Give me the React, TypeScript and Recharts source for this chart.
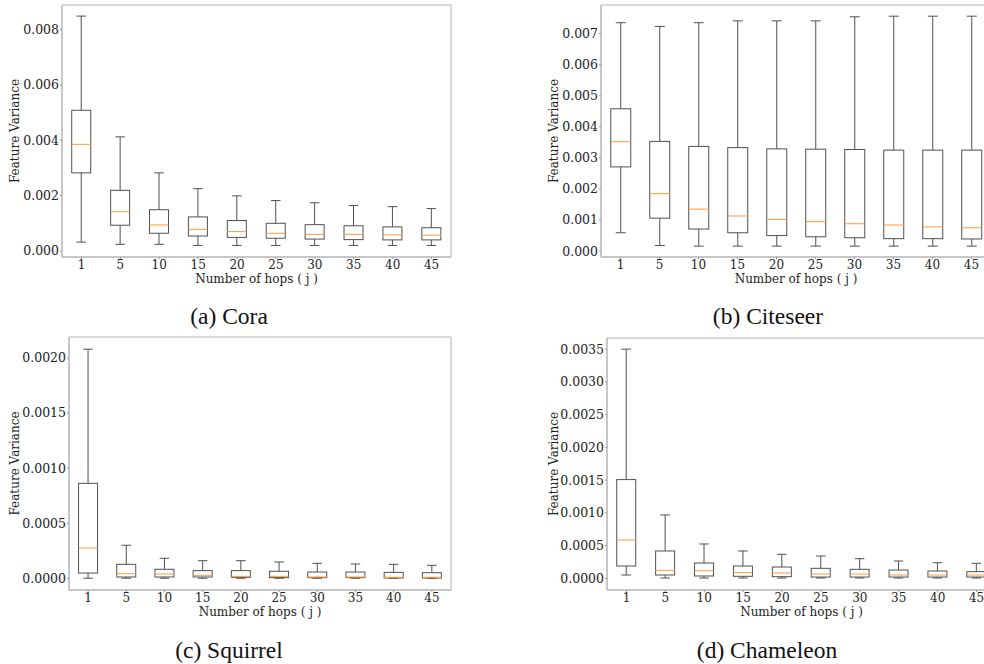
import React from "react"
import { Bar, ComposedChart, ReferenceArea, XAxis, YAxis } from "recharts"

// hop counts on the x axis
const hops = ["1", "5", "10", "15", "20", "25", "30", "35", "40", "45"]

// (a) Cora
const coraLow = [0.00032, 0.00024, 0.00024, 0.0002, 0.0002, 0.0002, 0.0002, 0.0002, 0.0002, 0.0002]
const coraQ1 = [0.00282, 0.00093, 0.00064, 0.00054, 0.00049, 0.00046, 0.00043, 0.00041, 0.0004, 0.0004]
const coraMed = [0.00385, 0.00142, 0.00094, 0.00078, 0.0007, 0.00064, 0.0006, 0.0006, 0.00058, 0.00057]
const coraQ3 = [0.00508, 0.00219, 0.00149, 0.00123, 0.0011, 0.001, 0.00095, 0.00091, 0.00087, 0.00084]
const coraHigh = [0.00848, 0.00412, 0.00282, 0.00225, 0.00199, 0.00182, 0.00174, 0.00164, 0.0016, 0.00153]

// (b) Citeseer
const citeLow = [0.00059, 0.00018, 0.00016, 0.00016, 0.00016, 0.00016, 0.00016, 0.00016, 0.00016, 0.00016]
const citeQ1 = [0.00271, 0.00106, 0.00071, 0.00059, 0.0005, 0.00046, 0.00043, 0.0004, 0.0004, 0.00039]
const citeMed = [0.00352, 0.00185, 0.00135, 0.00113, 0.00102, 0.00095, 0.00088, 0.00084, 0.00078, 0.00075]
const citeQ3 = [0.00458, 0.00353, 0.00337, 0.00333, 0.00329, 0.00328, 0.00327, 0.00325, 0.00325, 0.00325]
const citeHigh = [0.00735, 0.00723, 0.00735, 0.00741, 0.00741, 0.00741, 0.00754, 0.00756, 0.00756, 0.00756]

// (c) Squirrel
const squLow = [0.000001, 0.000001, 0.000001, 0.000001, 0.000001, 0.000001, 0.000001, 0.000001, 0.000001, 0.000001]
const squQ1 = [0.000048, 0.000012, 0.000012, 0.000012, 0.000009, 0.000006, 0.000006, 0.000006, 0.000003, 0.000003]
const squMed = [0.000275, 0.000042, 0.000039, 0.000027, 0.000018, 0.000018, 0.000012, 0.000012, 0.000009, 0.000009]
const squQ3 = [0.000862, 0.000127, 0.000082, 0.00007, 0.00007, 0.000064, 0.000057, 0.000057, 0.000054, 0.000051]
const squHigh = [0.002079, 0.0003, 0.000182, 0.00016, 0.00016, 0.000148, 0.000136, 0.00013, 0.000127, 0.000118]

// (d) Chameleon
const chamLow = [0.000051, 0.000005, 0.000005, 0.000005, 0.000005, 0.000005, 0.000005, 0.000005, 0.000005, 0.000005]
const chamQ1 = [0.000188, 0.000051, 0.000036, 0.000031, 0.000025, 0.00002, 0.00002, 0.00002, 0.00002, 0.00002]
const chamMed = [0.000586, 0.000122, 0.000117, 0.000087, 0.000082, 0.000066, 0.000066, 0.000051, 0.000051, 0.000051]
const chamQ3 = [0.001508, 0.000418, 0.000234, 0.000188, 0.000173, 0.000153, 0.000138, 0.000127, 0.000112, 0.000102]
const chamHigh = [0.0035, 0.000968, 0.000525, 0.000418, 0.000367, 0.000341, 0.0003, 0.000265, 0.000239, 0.000229]

const coraTicks = [0, 0.002, 0.004, 0.006, 0.008]
const citeTicks = [0, 0.001, 0.002, 0.003, 0.004, 0.005, 0.006, 0.007]
const squTicks = [0, 0.0005, 0.001, 0.0015, 0.002]
const chamTicks = [0, 0.0005, 0.001, 0.0015, 0.002, 0.0025, 0.003, 0.0035]

const FRAME = "#b4b4b4"
const BOX = "#505050"
const MEDIAN = "#ff9a3c"
const SERIF = "'DejaVu Serif', serif"
const TIMES = "'Liberation Serif', 'Times New Roman', serif"

function makeRows(low: number[], q1: number[], med: number[], q3: number[], high: number[]) {
  return hops.map((hop, i) => ({
    hop,
    low: low[i],
    q1: q1[i],
    med: med[i],
    q3: q3[i],
    high: high[i],
    range: [low[i], high[i]],
  }))
}

// draws one box plot inside the bar rect that spans [low, high]
function BoxShape(props: any) {
  const { x, y, width, height, payload } = props
  const { low, q1, med, q3, high } = payload
  const pos = (v: number) => y + (height * (high - v)) / (high - low)
  const cx = x + width / 2
  const cap = width / 4
  return (
    <g>
      <line x1={cx} x2={cx} y1={pos(high)} y2={pos(q3)} stroke={BOX} />
      <line x1={cx} x2={cx} y1={pos(q1)} y2={pos(low)} stroke={BOX} />
      <line x1={cx - cap} x2={cx + cap} y1={pos(high)} y2={pos(high)} stroke={BOX} />
      <line x1={cx - cap} x2={cx + cap} y1={pos(low)} y2={pos(low)} stroke={BOX} />
      <rect x={x} y={pos(q3)} width={width} height={pos(q1) - pos(q3)} fill="none" stroke={BOX} />
      <line x1={x} x2={x + width} y1={pos(med)} y2={pos(med)} stroke={MEDIAN} />
    </g>
  )
}

function YTitle({ viewBox, dx }: any) {
  const cx = viewBox.x + viewBox.width + dx
  const cy = viewBox.y + viewBox.height / 2
  return (
    <text x={cx} y={cy} transform={`rotate(-90, ${cx}, ${cy})`} textAnchor="middle"
      dominantBaseline="central" fontFamily={SERIF} fontSize={12} fill="#222">
      Feature Variance
    </text>
  )
}

function XTitle({ viewBox }: any) {
  return (
    <text x={viewBox.x + viewBox.width / 2} y={viewBox.y + 22} textAnchor="middle"
      dominantBaseline="central" fontFamily={SERIF} fontSize={12} fill="#222">
      Number of hops ( j )
    </text>
  )
}

interface PanelProps {
  rows: any[]
  domain: [number, number]
  ticks: number[]
  digits: number
  left: number
  top: number
  plotW: number
  plotH: number
  titleDx: number
}

const AXIS_W = 70
const AXIS_H = 32

function Panel({ rows, domain, ticks, digits, left, top, plotW, plotH, titleDx }: PanelProps) {
  return (
    <div style={{ position: "absolute", left: left - AXIS_W, top: top - 2 }}>
      <ComposedChart
        width={AXIS_W + plotW + 2}
        height={plotH + AXIS_H + 2}
        data={rows}
        margin={{ top: 2, right: 2, bottom: 0, left: 0 }}
        barCategoryGap="25%"
      >
        <XAxis dataKey="hop" height={AXIS_H} interval={0} tickSize={2} tickMargin={1}
          axisLine={{ stroke: FRAME }} tickLine={{ stroke: "#999" }}
          tick={{ fontFamily: SERIF, fontSize: 12, fill: "#222" }}
          label={<XTitle />} />
        <YAxis domain={domain} ticks={ticks} allowDataOverflow width={AXIS_W}
          tickSize={2} tickMargin={1} interval={0}
          tickFormatter={(v: number) => v.toFixed(digits)}
          axisLine={{ stroke: FRAME }} tickLine={{ stroke: "#999" }}
          tick={{ fontFamily: SERIF, fontSize: 12.5, fill: "#222" }}
          label={<YTitle dx={titleDx} />} />
        {/* axes frame */}
        <ReferenceArea x1={hops[0]} x2={hops[hops.length - 1]} y1={domain[0]} y2={domain[1]}
          fill="none" stroke={FRAME} strokeWidth={1} ifOverflow="visible" />
        <Bar dataKey="range" shape={(p: any) => <BoxShape {...p} />} isAnimationActive={false} />
      </ComposedChart>
    </div>
  )
}

export default function App() {
  return (
    <div style={{ position: "absolute", left: 0, top: 0, width: 984, height: 664, overflow: "hidden", background: "#fff" }}>
      <Panel rows={makeRows(coraLow, coraQ1, coraMed, coraQ3, coraHigh)} domain={[-0.000217, 0.00888]}
        ticks={coraTicks} digits={3} left={62} top={5} plotW={389} plotH={252} titleDx={-47} />
      <Panel rows={makeRows(citeLow, citeQ1, citeMed, citeQ3, citeHigh)} domain={[-0.00019, 0.00792]}
        ticks={citeTicks} digits={3} left={600.5} top={5} plotW={390} plotH={252} titleDx={-47} />
      <Panel rows={makeRows(squLow, squQ1, squMed, squQ3, squHigh)} domain={[-0.000106, 0.00219]}
        ticks={squTicks} digits={4} left={69.3} top={337.3} plotW={382} plotH={253} titleDx={-54} />
      <Panel rows={makeRows(chamLow, chamQ1, chamMed, chamQ3, chamHigh)} domain={[-0.000178, 0.00367]}
        ticks={chamTicks} digits={4} left={606.5} top={338.3} plotW={389} plotH={252} titleDx={-53} />
      <svg width={984} height={664} style={{ position: "absolute", left: 0, top: 0, pointerEvents: "none" }}>
        <g fontFamily={TIMES} fontSize={23.5} fill="#111" textAnchor="middle">
          <text x={229} y={324}>(a) Cora</text>
          <text x={768} y={324}>(b) Citeseer</text>
          <text x={229} y={658}>(c) Squirrel</text>
          <text x={767} y={658}>(d) Chameleon</text>
        </g>
      </svg>
    </div>
  )
}
